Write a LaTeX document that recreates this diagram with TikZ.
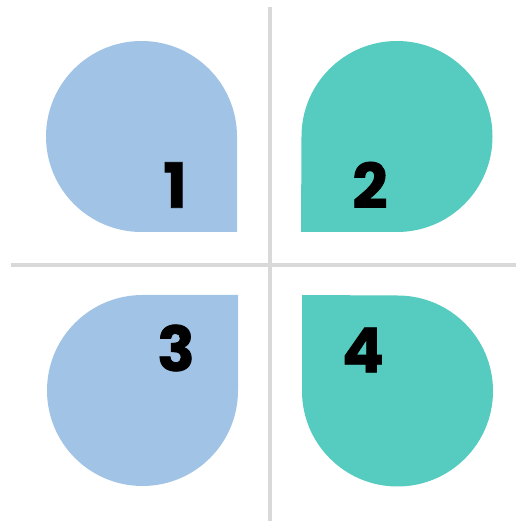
\documentclass[tikz,border=0pt]{standalone}
\usepackage{fontspec}
\newfontfamily\numfont{Poppins}[BoldFeatures={FakeBold=1.2}]
\definecolor{dropblue}{HTML}{A1C4E6}
\definecolor{dropteal}{HTML}{56CBBF}
\definecolor{axisgray}{HTML}{D9D9D9}
\begin{document}
\begin{tikzpicture}[x=1pt,y=1pt,
  axis/.style={draw=axisgray,line width=3.5pt},
  num/.style={font=\numfont\bfseries\fontsize{62}{62}\selectfont,text=black,inner sep=0pt}]
\useasboundingbox (0,0) rectangle (516,523);
% axes
\coordinate (vtop) at (270,516);
\coordinate (vbot) at (270,2);
\coordinate (hl) at (11,258);
\coordinate (hr) at (516,258);
\draw[axis] (vtop) -- (vbot);
\draw[axis] (hl) -- (hr);
% drops
\fill[dropblue] (237,291) -- (237,386.5) arc[start angle=0,end angle=270,radius=95.5] -- cycle;
\fill[dropteal] (301,291) -- (397,291) arc[start angle=-90,end angle=180,radius=95.5] -- cycle;
\fill[dropblue] (238,228) -- (142.5,228) arc[start angle=90,end angle=360,radius=95.5] -- cycle;
\fill[dropteal] (302,228) -- (302,132) arc[start angle=180,end angle=450,radius=95.5] -- cycle;
% labels
\node[num] (n1) at (175,338) {1};
\node[num] (n2) at (370,338) {2};
\node[num] (n3) at (176,175) {3};
\node[num] (n4) at (363,173) {4};
\end{tikzpicture}
\end{document}
